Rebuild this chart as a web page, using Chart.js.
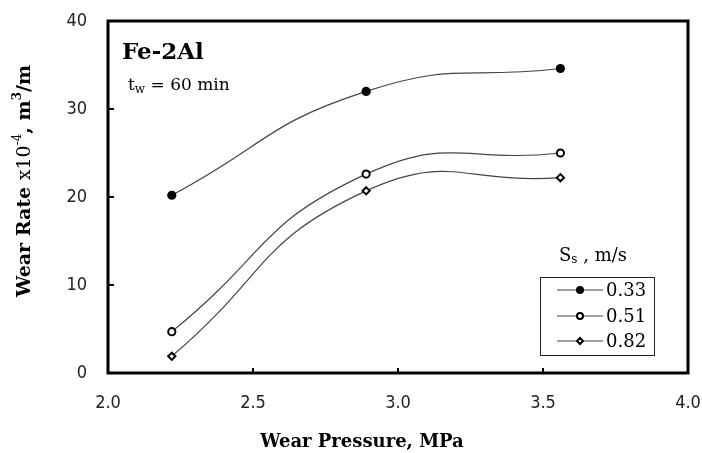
<!DOCTYPE html>
<html>
<head>
<meta charset="utf-8">
<script src="https://cdn.jsdelivr.net/npm/chart.js@4"></script>
<style>
  body { margin: 0; background: #fff; }
  canvas { display: block; }
</style>
</head>
<body>
<canvas id="chart" width="702" height="453"></canvas>
<script>
// wear pressure (MPa)
const pressure = [2.22, 2.89, 3.56];
// wear rate x10^-4 m3/m for each sliding speed
const rate033 = [20.2, 32.0, 34.6];
const rate051 = [4.7, 22.6, 25.0];
const rate082 = [1.9, 20.7, 22.2];
const speedLabels = ["0.33", "0.51", "0.82"];
const xTicks = [2.0, 2.5, 3.0, 3.5, 4.0];
const yTicks = [0, 10, 20, 30, 40];

const serif = "'DejaVu Serif', 'Liberation Serif', serif";
const narrow = "'Liberation Sans Narrow', 'Arial Narrow', 'DejaVu Sans Condensed', sans-serif";

const toPoints = (ys) => pressure.map((x, i) => ({ x: x, y: ys[i] }));

function series(label, ys, style, fill) {
  return {
    label: label,
    data: toPoints(ys),
    borderColor: "#444",
    borderWidth: 1.2,
    tension: 0.5,
    pointStyle: style,
    pointRadius: style === "rectRot" ? 3.6 : (fill === "#000" ? 4.6 : 3.6),
    pointBorderWidth: fill === "#000" ? 0 : 2,
    pointBorderColor: "#000",
    pointBackgroundColor: fill,
  };
}

// draw a run of text pieces with different fonts, centred on (x, y)
function richText(ctx, parts, x, y) {
  let total = 0;
  parts.forEach(p => { ctx.font = p.font; total += ctx.measureText(p.t).width; });
  let cx = x - total / 2;
  parts.forEach(p => {
    ctx.font = p.font;
    ctx.fillText(p.t, cx, y + (p.dy || 0));
    cx += ctx.measureText(p.t).width;
  });
}

// keep label overhang from pushing the plot area around
function noPad(s) {
  s.paddingLeft = 0; s.paddingRight = 0; s.paddingTop = 0; s.paddingBottom = 0;
}

const framePlugin = {
  id: "frame",
  afterDatasetsDraw(chart) {
    const ctx = chart.ctx;
    const a = chart.chartArea;
    const xs = chart.scales.x, ys = chart.scales.y;
    ctx.save();
    ctx.strokeStyle = "#000";
    ctx.lineWidth = 3;
    ctx.strokeRect(a.left, a.top, a.right - a.left, a.bottom - a.top);
    // inner tick marks
    ctx.lineWidth = 2;
    ctx.beginPath();
    xTicks.slice(1, -1).forEach(v => {
      const px = Math.round(xs.getPixelForValue(v));
      ctx.moveTo(px, a.bottom);
      ctx.lineTo(px, a.bottom - 5);
    });
    yTicks.slice(1, -1).forEach(v => {
      const py = Math.round(ys.getPixelForValue(v));
      ctx.moveTo(a.left, py);
      ctx.lineTo(a.left + 6, py);
    });
    ctx.stroke();

    // legend box
    ctx.fillStyle = "#000";
    ctx.textBaseline = "middle";
    richText(ctx, [
      { t: "S", font: "18px " + serif },
      { t: "s", font: "12px " + serif, dy: 4 },
      { t: " , m/s", font: "18px " + serif },
    ], 593, 256);
    ctx.lineWidth = 1;
    ctx.strokeStyle = "#222";
    ctx.strokeRect(540.5, 277.5, 114, 78);
    const rows = [290, 316, 341];
    chart.data.datasets.forEach((ds, i) => {
      const y = rows[i];
      ctx.strokeStyle = "#444";
      ctx.lineWidth = 1.2;
      ctx.beginPath();
      ctx.moveTo(557, y);
      ctx.lineTo(603, y);
      ctx.stroke();
      ctx.fillStyle = ds.pointBackgroundColor;
      ctx.strokeStyle = "#000";
      ctx.lineWidth = ds.pointBorderWidth;
      Chart.helpers.drawPoint(ctx, {
        pointStyle: ds.pointStyle,
        radius: ds.pointRadius - 0.6,
        rotation: 0,
        borderWidth: ds.pointBorderWidth,
      }, 580, y);
      ctx.fillStyle = "#000";
      ctx.font = "18px " + serif;
      ctx.textAlign = "left";
      ctx.fillText(ds.label, 606, y + 1);
    });

    // annotations
    ctx.textAlign = "left";
    ctx.font = "bold 23px " + serif;
    ctx.fillText("Fe-2Al", 122, 53);
    ctx.font = "17px " + serif;
    ctx.fillText("t", 128, 86);
    let w = ctx.measureText("t").width;
    ctx.font = "12px " + serif;
    ctx.fillText("w", 128 + w, 90);
    w += ctx.measureText("w").width;
    ctx.font = "17px " + serif;
    ctx.fillText(" = 60 min", 128 + w, 86);

    // axis titles
    const bold = "bold 18px " + serif;
    richText(ctx, [{ t: "Wear Pressure, MPa", font: bold }], 362, 442);
    ctx.translate(25, 181);
    ctx.rotate(-Math.PI / 2);
    const bold19 = "bold 19px " + serif;
    richText(ctx, [
      { t: "Wear Rate ", font: bold19 },
      { t: "x10", font: "19px " + serif },
      { t: "-4", font: "12px " + serif, dy: -7 },
      { t: ", m", font: bold19 },
      { t: "3", font: "bold 12px " + serif, dy: -7 },
      { t: "/m", font: bold19 },
    ], 0, 0);
    ctx.restore();
  },
};

new Chart(document.getElementById("chart"), {
  type: "scatter",
  data: {
    datasets: [
      series(speedLabels[0], rate033, "circle", "#000"),
      series(speedLabels[1], rate051, "circle", "#fff"),
      series(speedLabels[2], rate082, "rectRot", "#fff"),
    ],
  },
  options: {
    responsive: false,
    animation: false,
    showLine: true,
    layout: { padding: { top: 21, right: 14, left: 0, bottom: 0 } },
    plugins: { legend: { display: false }, tooltip: { enabled: false } },
    scales: {
      x: {
        type: "linear",
        min: 2,
        max: 4,
        afterBuildTicks: (s) => { s.ticks = xTicks.map(v => ({ value: v })); },
        afterFit: (s) => { s.height = 80; noPad(s); },
        grid: { display: false, drawTicks: false },
        border: { display: false },
        ticks: {
          padding: 20,
          color: "#222",
          font: { family: narrow, size: 18 },
          callback: (v) => Number(v).toFixed(1),
        },
      },
      y: {
        min: 0,
        max: 40,
        afterBuildTicks: (s) => { s.ticks = yTicks.map(v => ({ value: v })); },
        afterFit: (s) => { s.width = 108; noPad(s); },
        grid: { display: false, drawTicks: false },
        border: { display: false },
        ticks: {
          padding: 21,
          color: "#222",
          font: { family: narrow, size: 18 },
        },
      },
    },
  },
  plugins: [framePlugin],
});
</script>
</body>
</html>
